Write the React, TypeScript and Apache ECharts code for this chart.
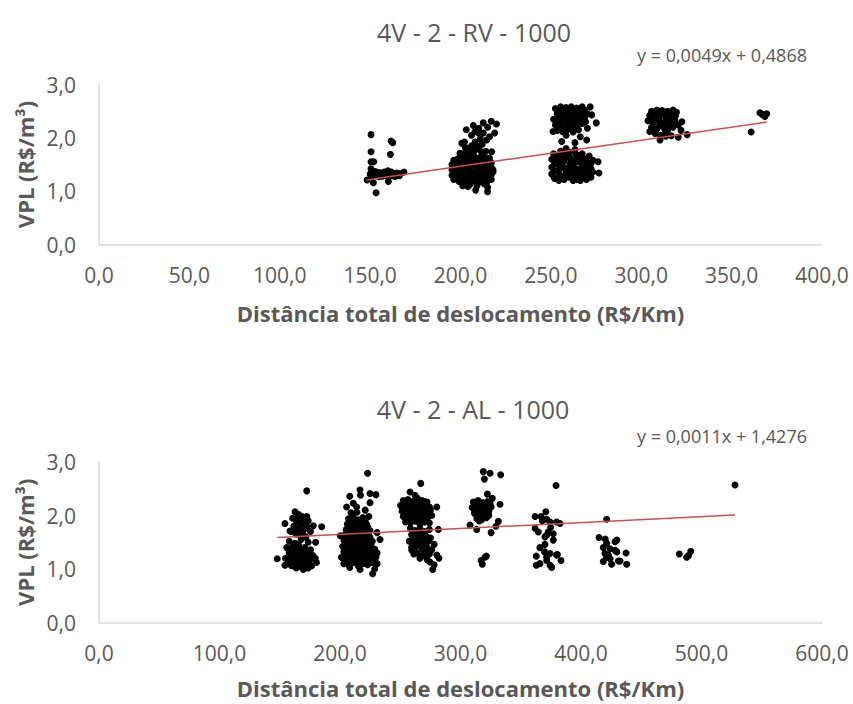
import { useEffect, useRef } from "react";
import * as echarts from "echarts";

// ---------- Chart 1: 4V - 2 - RV - 1000 ----------
const RV_TITLE = "4V - 2 - RV - 1000";
const RV_EQUATION = "y = 0,0049x + 0,4868";
const RV_SLOPE = 0.0049;
const RV_INTERCEPT = 0.4868;
const RV_TREND_X = [147.9, 369.4];
const RV_X_TICKS = { min: 0, max: 400, interval: 50 };

const RV_CLUSTER_150 = [
  [150.5, 2.06], [161.6, 1.94], [162.5, 1.91], [150.5, 1.74], [161.2, 1.69], [150.5, 1.55], [152, 1.55],
  [150.5, 1.42], [150, 1.32], [148.3, 1.21], [153.3, 0.97], [151.8, 1.16], [160.1, 1.18], [168.7, 1.36],
  [151.9, 1.3], [153.9, 1.34], [155.8, 1.31], [157.8, 1.36], [158.8, 1.29], [160.8, 1.33], [162.7, 1.3],
  [164.7, 1.34], [166.2, 1.29], [154.8, 1.27], [159.8, 1.38], [156.8, 1.28], [163.7, 1.27], [152.9, 1.37],
  [161.7, 1.36], [150.9, 1.28], [152.4, 1.33], [155.3, 1.35], [158.3, 1.32], [161.2, 1.29], [164.2, 1.31],
  [166.7, 1.33],
];

const RV_CLUSTER_210 = [
  [195.3, 1.3], [195.3, 1.4], [195.3, 1.5], [196.3, 1.22], [197.2, 1.35], [197.2, 1.45], [197.2, 1.55],
  [198.2, 1.28], [199.2, 1.18], [199.2, 1.4], [199.2, 1.62], [200.2, 1.5], [200.2, 1.33], [201.2, 1.7],
  [201.2, 1.24], [202.2, 1.42], [202.2, 1.58], [203.2, 1.15], [203.2, 1.35], [203.2, 1.78], [204.1, 1.5],
  [204.1, 1.65], [205.1, 1.26], [205.1, 1.43], [206.1, 1.85], [206.1, 1.58], [207.1, 1.2], [207.1, 1.35],
  [207.1, 1.7], [208.1, 1.48], [209.1, 1.62], [209.1, 1.28], [210.1, 1.8], [210.1, 1.4], [211, 1.52],
  [211, 1.18], [212, 1.68], [212, 1.33], [213, 1.45], [213, 1.58], [214, 1.25], [214, 1.75], [215, 1.38],
  [215, 1.52], [216, 1.3], [216, 1.62], [217, 1.45], [217, 1.22], [218, 1.36], [202.2, 1.92], [208.1, 1.92],
  [212, 1.88], [205.1, 1.12], [209.1, 1.1], [213, 1.14], [201.2, 1.1], [198.2, 1.6], [196.3, 1.58],
  [203.2, 2.15], [207.1, 2.23], [212.6, 2.28], [217, 2.31], [219.9, 2.26], [218.9, 2.09], [212.6, 2.09],
  [209.9, 2.09], [200.7, 1.9], [214.5, 1.96], [217.3, 1.74], [204.1, 1.09], [208.4, 1.02], [215, 1.07],
  [215, 0.99], [210.1, 2.18], [215, 2.2], [206.1, 2.05], [216, 2.02], [211, 1.98], [208.1, 2.12],
  [196.8, 1.26], [196.8, 1.35], [196.8, 1.44], [196.8, 1.53], [199.7, 1.22], [199.7, 1.31], [199.7, 1.44],
  [199.7, 1.53], [199.7, 1.71], [202.7, 1.17], [202.7, 1.26], [202.7, 1.35], [202.7, 1.49], [202.7, 1.62],
  [202.7, 1.71], [202.7, 1.82], [205.6, 1.17], [205.6, 1.35], [205.6, 1.53], [205.6, 1.62], [205.6, 1.71],
  [205.6, 1.78], [208.6, 1.17], [208.6, 1.26], [208.6, 1.38], [208.6, 1.56], [208.6, 1.78], [208.6, 1.86],
  [211.5, 1.26], [211.5, 1.35], [211.5, 1.44], [211.5, 1.62], [211.5, 1.74], [214.5, 1.17], [214.5, 1.35],
  [214.5, 1.44], [214.5, 1.62], [217, 1.3], [217, 1.53], [218, 1.4],
];

const RV_CLUSTER_260_HIGH = [
  [252.5, 2.55], [255.4, 2.58], [258.4, 2.57], [261.3, 2.58], [264.3, 2.56], [267.3, 2.58], [271.7, 2.58],
  [253.5, 2.45], [256.4, 2.48], [259.4, 2.42], [262.3, 2.47], [265.3, 2.44], [268.2, 2.46], [272.6, 2.43],
  [251.5, 2.35], [254.4, 2.37], [257.4, 2.32], [260.4, 2.36], [263.3, 2.33], [266.3, 2.38], [269.2, 2.3],
  [252.5, 2.24], [255.4, 2.27], [258.4, 2.2], [261.3, 2.25], [264.3, 2.22], [267.3, 2.27], [275.1, 2.28],
  [253.5, 2.14], [256.4, 2.12], [259.4, 2.16], [262.3, 2.11], [251.2, 2.12], [265.3, 2.15], [270.2, 2.18],
  [256, 1.93], [263.3, 1.91], [269.8, 1.96], [258.4, 2.05], [266.3, 2.02], [254, 2.18], [254, 2.29],
  [254, 2.4], [254, 2.51], [256.9, 2.18], [256.9, 2.4], [256.9, 2.53], [259.9, 2.29], [259.9, 2.5],
  [262.8, 2.18], [262.8, 2.4], [262.8, 2.52], [265.8, 2.29], [265.8, 2.51], [268.7, 2.38], [268.7, 2.52],
  [270.2, 2.45],
];

const RV_CLUSTER_260_LOW = [
  [250.5, 1.6], [250.5, 1.45], [250.5, 1.32], [251.5, 1.7], [252.5, 1.25], [253.5, 1.52], [253.5, 1.38],
  [254.4, 1.62], [255.4, 1.3], [255.4, 1.75], [256.4, 1.46], [257.4, 1.22], [257.4, 1.56], [258.4, 1.35],
  [259.4, 1.68], [259.4, 1.44], [260.4, 1.26], [261.3, 1.58], [261.3, 1.38], [262.3, 1.5], [263.3, 1.78],
  [263.3, 1.28], [264.3, 1.64], [264.3, 1.42], [265.3, 1.22], [266.3, 1.54], [266.3, 1.34], [267.3, 1.7],
  [267.3, 1.46], [268.2, 1.26], [269.2, 1.6], [269.2, 1.38], [270.2, 1.5], [271.2, 1.3], [271.2, 1.66],
  [272.2, 1.42], [258.4, 1.8], [254.4, 1.2], [262.3, 1.2], [266.3, 1.2], [276.1, 1.55], [276.6, 1.34],
  [273.2, 1.58], [260.4, 1.73], [252, 1.24], [252, 1.38], [252, 1.51], [252, 1.62], [254.9, 1.27],
  [254.9, 1.42], [254.9, 1.55], [254.9, 1.69], [257.9, 1.3], [257.9, 1.42], [257.9, 1.62], [257.9, 1.72],
  [260.8, 1.33], [260.8, 1.51], [260.8, 1.62], [263.8, 1.22], [263.8, 1.36], [263.8, 1.55], [263.8, 1.7],
  [266.8, 1.28], [266.8, 1.4], [266.8, 1.62], [269.7, 1.22], [269.7, 1.33], [269.7, 1.44], [269.7, 1.55],
  [272.2, 1.26], [272.2, 1.52], [273.2, 1.36],
];

const RV_CLUSTER_315 = [
  [305.7, 2.5], [308.7, 2.52], [311.6, 2.51], [314.6, 2.5], [317.6, 2.52], [319.5, 2.48], [304.7, 2.42],
  [307.7, 2.4], [310.7, 2.44], [313.6, 2.38], [316.6, 2.42], [303.7, 2.32], [306.7, 2.28], [309.7, 2.33],
  [312.6, 2.25], [315.6, 2.3], [318.5, 2.34], [305.7, 2.2], [308.7, 2.17], [311.6, 2.22], [314.6, 2.14],
  [317.6, 2.2], [320.5, 2.24], [307.7, 2.08], [310.7, 2.05], [313.6, 2.1], [316.6, 2.04], [310.4, 1.96],
  [320.5, 2.01], [325.4, 2.06], [322, 2.14], [304.7, 2.12], [322.5, 2.3], [307.2, 2.14], [307.2, 2.36],
  [307.2, 2.46], [310.2, 2.25], [310.2, 2.4], [313.1, 2.16], [313.1, 2.3], [313.1, 2.46], [316.1, 2.22],
  [316.1, 2.36], [319, 2.28], [319, 2.42], [313.6, 2.03],
];

const RV_CLUSTER_370 = [[365.7, 2.47], [369.4, 2.45], [368.4, 2.4], [360.8, 2.11], [366.9, 2.44]];

// ---------- Chart 2: 4V - 2 - AL - 1000 ----------
const AL_TITLE = "4V - 2 - AL - 1000";
const AL_EQUATION = "y = 0,0011x + 1,4276";
const AL_SLOPE = 0.0011;
const AL_INTERCEPT = 1.4276;
const AL_TREND_X = [147.9, 527.8];
const AL_X_TICKS = { min: 0, max: 600, interval: 100 };

const AL_CLUSTER_165 = [
  [147.9, 1.19], [172.4, 2.46], [184.8, 1.79], [179.8, 1.5], [154.3, 1.85], [158.5, 1.71], [169.6, 0.99],
  [154.3, 1.07], [162.7, 2.07], [165.7, 2.02], [168.6, 1.98], [172.4, 1.98], [160.7, 1.95], [163.7, 1.9],
  [167.7, 1.88], [170.6, 1.85], [173.6, 1.9], [161.7, 1.8], [165.7, 1.76], [169.6, 1.72], [172.6, 1.78],
  [175.5, 1.7], [177.9, 1.81], [163.7, 1.65], [167.7, 1.62], [171.6, 1.6], [159.8, 1.7], [157.8, 1.52],
  [162.7, 1.48], [167.7, 1.55], [173.6, 1.5], [165.7, 1.45], [155.8, 1.4], [160.8, 1.42], [165.7, 1.38],
  [170.6, 1.4], [175.5, 1.36], [157.8, 1.3], [162.7, 1.32], [167.7, 1.28], [172.6, 1.3], [177.5, 1.25],
  [154.8, 1.2], [159.8, 1.22], [164.7, 1.18], [169.6, 1.2], [174.6, 1.16], [179.5, 1.2], [156.8, 1.1],
  [161.7, 1.12], [166.7, 1.08], [171.6, 1.1], [176.5, 1.06], [163.7, 1.02], [173.6, 1.02], [158.8, 1.15],
  [180.5, 1.12], [164.7, 1.95], [169.6, 1.93], [166.7, 1.82], [171.6, 1.82], [163.7, 1.72], [168.6, 1.68],
  [159.8, 1.35], [164.7, 1.34], [169.6, 1.34], [174.6, 1.3], [161.7, 1.25], [166.7, 1.23], [171.6, 1.25],
  [176.5, 1.2], [157.8, 1.2], [163.7, 1.13], [168.6, 1.14], [173.6, 1.11], [159.8, 1.06], [167.7, 1.04],
];

const AL_CLUSTER_215 = [
  [203.2, 1.1], [207.1, 1.08], [211, 1.12], [215, 1.06], [218.9, 1.1], [222.9, 1.08], [226.8, 1.12], [230.8, 1.1],
  [202.2, 1.2], [206.1, 1.22], [210.1, 1.18], [214, 1.22], [217.9, 1.2], [221.9, 1.24], [225.8, 1.18], [229.8, 1.22],
  [203.2, 1.32], [207.1, 1.3], [211, 1.34], [215, 1.3], [218.9, 1.32], [222.9, 1.3], [226.8, 1.34], [230.8, 1.3],
  [202.2, 1.42], [206.1, 1.44], [210.1, 1.4], [214, 1.44], [217.9, 1.42], [221.9, 1.4], [225.8, 1.44],
  [203.2, 1.54], [207.1, 1.52], [211, 1.56], [215, 1.52], [218.9, 1.54], [222.9, 1.56], [226.8, 1.52],
  [204.1, 1.64], [208.1, 1.66], [212, 1.62], [216, 1.66], [219.9, 1.64], [223.9, 1.62],
  [205.1, 1.74], [209.1, 1.76], [213, 1.72], [217, 1.76], [220.9, 1.74], [224.9, 1.72],
  [206.1, 1.84], [210.1, 1.86], [214, 1.82], [217.9, 1.86], [221.9, 1.84],
  [207.1, 1.94], [211, 1.96], [215, 1.92], [218.9, 1.96], [223.9, 1.98],
  [208.1, 2.36], [216.6, 2.48], [217, 2.38], [224.9, 2.41], [229.8, 2.39], [224.9, 2.24], [213.8, 2.16],
  [211, 2.23], [205.5, 2.16], [214, 2.06], [220.9, 2.1], [209.1, 2.05], [233.2, 1.55], [208.1, 1.03],
  [216.6, 0.99], [227.1, 0.91], [201.2, 1.22], [222.9, 2.79], [228.8, 1.0], [200.2, 1.62], [230.8, 1.68],
  [205.1, 1.15], [209.1, 1.15], [213, 1.15], [217, 1.15], [220.9, 1.15], [224.9, 1.15], [228.8, 1.15],
  [204.1, 1.26], [208.1, 1.26], [212, 1.26], [216, 1.26], [219.9, 1.26], [223.9, 1.26], [227.8, 1.26],
  [205.1, 1.37], [209.1, 1.37], [213, 1.37], [217, 1.37], [220.9, 1.37], [224.9, 1.37], [228.8, 1.37],
  [204.1, 1.48], [208.1, 1.48], [212, 1.48], [216, 1.48], [219.9, 1.48], [223.9, 1.48],
  [205.1, 1.59], [209.1, 1.59], [213, 1.59], [217, 1.59], [220.9, 1.59], [224.9, 1.59],
  [206.1, 1.69], [210.1, 1.69], [214, 1.69], [217.9, 1.69], [221.9, 1.69],
  [207.1, 1.79], [211, 1.79], [215, 1.79], [218.9, 1.79], [222.9, 1.79],
  [209.1, 1.9], [213, 1.9], [217, 1.9], [220.9, 1.9],
];

const AL_CLUSTER_270 = [
  [252.5, 2.28], [256.4, 2.3], [260.4, 2.26], [264.3, 2.32], [268.2, 2.28], [272.2, 2.25],
  [250.5, 2.18], [254.4, 2.2], [258.4, 2.16], [262.3, 2.22], [266.3, 2.18], [270.2, 2.2], [274.2, 2.16],
  [251.5, 2.08], [255.4, 2.06], [259.4, 2.1], [263.3, 2.04], [267.3, 2.08], [271.2, 2.06], [275.1, 2.1],
  [252.5, 1.98], [256.4, 1.96], [260.4, 2.0], [264.3, 1.94], [268.2, 1.98], [272.2, 1.96], [276.1, 2.0],
  [254.4, 1.88], [258.4, 1.86], [262.3, 1.9], [266.3, 1.84], [270.2, 1.88], [274.2, 1.86],
  [267, 2.6], [258.1, 2.44], [250.4, 2.19], [280.3, 2.16], [281.6, 1.74], [262.3, 2.38],
  [258.4, 1.76], [262.3, 1.72], [266.3, 1.76], [270.2, 1.7], [274.2, 1.74],
  [259.4, 1.64], [263.3, 1.6], [267.3, 1.66], [271.2, 1.62], [275.1, 1.58],
  [257.4, 1.52], [261.3, 1.5], [265.3, 1.54], [269.2, 1.48], [273.2, 1.52], [278.1, 1.46],
  [259.4, 1.4], [263.3, 1.42], [268.2, 1.38], [272.2, 1.4], [276.1, 1.36],
  [259.6, 1.35], [272, 1.35], [264.3, 1.3], [269.2, 1.26], [274.2, 1.28], [280.3, 1.26], [266.3, 1.2],
  [272.2, 1.18], [274.7, 1.13], [276.9, 0.99], [278.1, 1.08], [282.1, 1.2], [261.3, 1.28],
  [254.4, 2.24], [258.4, 2.22], [262.3, 2.27], [266.3, 2.24], [270.2, 2.26], [253.5, 2.12], [257.4, 2.12],
  [261.3, 2.14], [265.3, 2.12], [269.2, 2.14], [273.2, 2.12], [253.5, 2.02], [258.4, 2.01], [262.3, 2.0],
  [266.3, 2.03], [270.2, 2.01], [274.2, 2.04], [256.4, 1.92], [260.4, 1.93], [264.3, 1.9], [268.2, 1.93],
  [272.2, 1.92], [260.4, 1.58], [264.3, 1.68], [268.2, 1.55], [261.3, 1.45], [266.3, 1.47], [270.2, 1.43],
];

const AL_CLUSTER_325 = [
  [318.9, 2.82], [324.5, 2.79], [333.3, 2.76], [319.8, 2.68], [322.3, 2.4], [310.7, 2.25], [314.6, 2.28],
  [318.5, 2.24], [322.5, 2.26], [309.7, 2.15], [313.6, 2.12], [317.6, 2.18], [321.5, 2.14], [325.4, 2.16],
  [311.6, 2.04], [315.6, 2.02], [319.5, 2.06], [323.5, 2.0], [313.6, 1.94], [317.6, 1.92], [321.5, 1.96],
  [332.8, 2.21], [307.9, 1.82], [313.4, 1.74], [325.4, 1.68], [331.4, 1.89], [320.3, 1.22],
  [317.1, 1.16], [318.1, 1.09], [321.5, 1.24], [326.4, 2.32], [329.4, 1.8],
  [312.6, 2.2], [316.6, 2.22], [320.5, 2.2], [324.5, 2.22], [311.6, 2.1], [315.6, 2.08], [319.5, 2.1],
  [323.5, 2.08], [313.6, 2.0], [317.6, 1.98], [321.5, 2.02], [315.6, 1.9],
];

const AL_CLUSTER_375 = [
  [379.3, 2.56], [361.9, 1.98], [366.9, 1.98], [370.8, 2.07], [371.5, 1.93], [374.3, 1.88], [379.7, 1.88],
  [382.6, 1.85], [361.9, 1.76], [364.6, 1.69], [372.8, 1.69], [370.1, 1.6], [371.5, 1.63], [377, 1.66],
  [377, 1.54], [370.1, 1.46], [362.9, 1.24], [369.8, 1.32], [374.3, 1.29], [379.7, 1.26], [371.5, 1.22],
  [371.5, 1.16], [362.9, 1.07], [365.9, 1.1], [374.3, 1.07], [375.7, 1.03], [383.4, 1.16], [380.4, 1.27],
  [367.9, 1.9], [374.8, 1.78], [365.9, 1.4],
];

const AL_CLUSTER_430 = [
  [421.3, 1.93], [415, 1.59], [418.5, 1.4], [421.3, 1.48], [428.2, 1.51], [429.7, 1.54],
  [419.9, 1.29], [422.7, 1.26], [428.2, 1.35], [429.7, 1.32], [437.4, 1.3], [421.3, 1.22],
  [424.1, 1.19], [418.5, 1.14], [425.4, 1.09], [431, 1.15], [432.4, 1.15], [437.9, 1.09], [424.1, 1.38],
  [420.1, 1.56],
];

const AL_CLUSTER_490 = [[481.6, 1.28], [487.7, 1.22], [489.2, 1.25], [491.1, 1.33], [527.8, 2.57]];

const Y_TICKS = { min: 0, max: 3, interval: 1 };
const X_AXIS_NAME = "Distância total de deslocamento (R$/Km)";
const Y_AXIS_NAME = "VPL (R$/m³)";

const FONT = "'Open Sans', 'Noto Sans', sans-serif";
const TEXT_COLOR = "#595959";
const AXIS_COLOR = "#d9d9d9";
const TREND_COLOR = "#c9504c";

const fmt = (v: number) => v.toFixed(1).replace(".", ",");

function trend(xs: number[], slope: number, intercept: number) {
  return xs.map((x) => [x, slope * x + intercept]);
}

function xAxisFor(gridIndex: number, ticks: { min: number; max: number; interval: number }, nameGap: number) {
  return {
    type: "value",
    gridIndex,
    ...ticks,
    name: X_AXIS_NAME,
    nameLocation: "middle",
    nameGap,
    nameTextStyle: { color: TEXT_COLOR, fontFamily: FONT, fontSize: 22, fontWeight: "bold" },
    axisLine: { show: true, lineStyle: { color: AXIS_COLOR, width: 1.5 } },
    axisTick: { show: false },
    splitLine: { show: false },
    axisLabel: { formatter: fmt, color: TEXT_COLOR, fontFamily: FONT, fontSize: 21, margin: 20 },
  };
}

function yAxisFor(gridIndex: number) {
  return {
    type: "value",
    gridIndex,
    ...Y_TICKS,
    name: Y_AXIS_NAME,
    nameLocation: "middle",
    nameGap: 62,
    nameTextStyle: { color: TEXT_COLOR, fontFamily: FONT, fontSize: 22, fontWeight: "bold" },
    axisLine: { show: true, lineStyle: { color: AXIS_COLOR, width: 1.5 } },
    axisTick: { show: false },
    splitLine: { show: false },
    axisLabel: { formatter: fmt, color: TEXT_COLOR, fontFamily: FONT, fontSize: 21, margin: 23 },
  };
}

export default function App() {
  const ref = useRef<HTMLDivElement>(null);
  useEffect(() => {
    document.body.style.margin = "0";
    const chart = echarts.init(ref.current!, null, { renderer: "svg" });
    const scatterStyle = { color: "#000000", opacity: 1 };
    chart.setOption({
      animation: false,
      backgroundColor: "#ffffff",
      title: [
        {
          text: RV_TITLE,
          left: 469,
          top: 14,
          textAlign: "center",
          textStyle: { color: TEXT_COLOR, fontFamily: FONT, fontSize: 25, fontWeight: "normal" },
        },
        {
          text: AL_TITLE,
          left: 468,
          top: 391,
          textAlign: "center",
          textStyle: { color: TEXT_COLOR, fontFamily: FONT, fontSize: 25, fontWeight: "normal" },
        },
      ],
      graphic: [
        {
          type: "text",
          left: 637,
          top: 46,
          style: { text: RV_EQUATION, fill: TEXT_COLOR, fontFamily: FONT, fontSize: 18 },
        },
        {
          type: "text",
          left: 637,
          top: 427,
          style: { text: AL_EQUATION, fill: TEXT_COLOR, fontFamily: FONT, fontSize: 18 },
        },
      ],
      grid: [
        { left: 99, top: 84.5, width: 723, height: 160 },
        { left: 99, top: 462, width: 723, height: 160.5 },
      ],
      xAxis: [xAxisFor(0, RV_X_TICKS, 57), xAxisFor(1, AL_X_TICKS, 54)],
      yAxis: [yAxisFor(0), yAxisFor(1)],
      series: [
        {
          type: "scatter",
          xAxisIndex: 0,
          yAxisIndex: 0,
          symbolSize: 7,
          itemStyle: scatterStyle,
          data: [
            ...RV_CLUSTER_150,
            ...RV_CLUSTER_210,
            ...RV_CLUSTER_260_HIGH,
            ...RV_CLUSTER_260_LOW,
            ...RV_CLUSTER_315,
            ...RV_CLUSTER_370,
          ],
        },
        {
          type: "line",
          xAxisIndex: 0,
          yAxisIndex: 0,
          showSymbol: false,
          lineStyle: { color: TREND_COLOR, width: 1.5 },
          data: trend(RV_TREND_X, RV_SLOPE, RV_INTERCEPT),
          z: 3,
        },
        {
          type: "scatter",
          xAxisIndex: 1,
          yAxisIndex: 1,
          symbolSize: 7,
          itemStyle: scatterStyle,
          data: [
            ...AL_CLUSTER_165,
            ...AL_CLUSTER_215,
            ...AL_CLUSTER_270,
            ...AL_CLUSTER_325,
            ...AL_CLUSTER_375,
            ...AL_CLUSTER_430,
            ...AL_CLUSTER_490,
          ],
        },
        {
          type: "line",
          xAxisIndex: 1,
          yAxisIndex: 1,
          showSymbol: false,
          lineStyle: { color: TREND_COLOR, width: 1.5 },
          data: trend(AL_TREND_X, AL_SLOPE, AL_INTERCEPT),
          z: 3,
        },
      ],
    });
    return () => chart.dispose();
  }, []);
  return <div ref={ref} style={{ width: 853, height: 704 }} />;
}
